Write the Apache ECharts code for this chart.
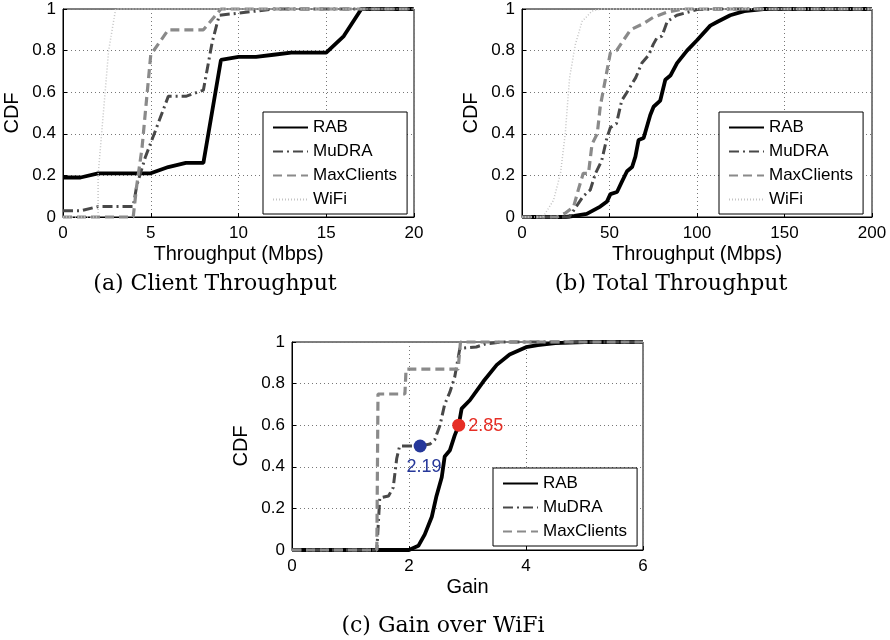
<!DOCTYPE html>
<html>
<head>
<meta charset="utf-8">
<script src="https://cdn.jsdelivr.net/npm/echarts@6/dist/echarts.min.js"></script>
<style>
  html, body { margin: 0; padding: 0; background: #fff; }
  #main { width: 890px; height: 640px; }
</style>
</head>
<body>
<div id="main"></div>
<script>
// series names shown in the legends
var names = ['RAB', 'MuDRA', 'MaxClients', 'WiFi'];

// (a) client throughput, [Mbps, CDF]
var aRAB = [[0,0.19],[1,0.19],[2,0.21],[3,0.21],[4,0.21],[5,0.21],[6,0.24],[7,0.26],[8,0.26],[9,0.755],[10,0.77],[11,0.77],[12,0.78],[13,0.79],[14,0.79],[15,0.79],[16,0.87],[17,1],[18,1],[19,1],[20,1]];
var aMuDRA = [[0,0.03],[1,0.03],[2,0.05],[3,0.05],[4,0.05],[4.2,0.15],[4.7,0.29],[5.2,0.4],[6,0.58],[7,0.58],[8,0.61],[8.5,0.84],[8.9,0.97],[10,0.98],[11,0.99],[12,1],[20,1]];
var aMaxClients = [[0,0],[1,0],[2,0],[3,0],[4,0],[4.2,0.15],[4.5,0.33],[4.8,0.6],[5,0.78],[6,0.9],[7,0.9],[8,0.9],[9,1],[20,1]];
var aWiFi = [[0,0],[1,0],[2,0],[2,0.2],[2.2,0.4],[2.4,0.6],[2.6,0.8],[3,1],[20,1]];

// (b) total throughput, [Mbps, CDF]
var bRAB = [[0,0],[25,0],[30,0.005],[37,0.015],[44.7,0.05],[48.6,0.075],[50.5,0.11],[54.3,0.12],[57.1,0.17],[60,0.22],[62.9,0.24],[64.8,0.29],[66.6,0.37],[69.5,0.38],[73.3,0.49],[75.2,0.53],[79,0.56],[81.9,0.66],[84.8,0.68],[88.6,0.74],[94.3,0.8],[100,0.85],[107.6,0.92],[112,0.94],[119,0.97],[127,0.99],[138,1],[200,1]];
var bMuDRA = [[0,0],[27,0],[31,0.05],[35,0.1],[39,0.13],[42,0.21],[45.5,0.27],[48.5,0.38],[50.5,0.43],[54,0.45],[57,0.56],[60,0.6],[65,0.67],[68.5,0.74],[72.5,0.78],[75,0.83],[77,0.86],[80,0.87],[83,0.94],[88.5,0.97],[100,0.997],[110,1],[200,1]];
var bMaxClients = [[0,0],[20,0],[25,0.02],[29.5,0.05],[32.5,0.14],[35,0.21],[38,0.21],[40,0.35],[43,0.4],[44.7,0.53],[47.6,0.66],[50.5,0.79],[54,0.8],[58,0.85],[62,0.9],[69.5,0.93],[75,0.96],[83,0.985],[92,1],[200,1]];
var bWiFi = [[0,0],[12,0],[18,0.08],[22,0.21],[24.7,0.4],[27.2,0.67],[30.5,0.83],[34.3,0.94],[40,0.99],[45,1],[200,1]];

// (c) gain over WiFi, [gain, CDF]
var cRAB = [[0,0],[2,0],[2.16,0.02],[2.27,0.075],[2.39,0.16],[2.47,0.26],[2.56,0.35],[2.61,0.45],[2.7,0.48],[2.78,0.55],[2.85,0.6],[2.9,0.68],[3.04,0.72],[3.27,0.81],[3.5,0.89],[3.72,0.94],[4,0.975],[4.2,0.985],[4.5,0.995],[5,1],[6,1]];
var cMuDRA = [[0,0],[1.45,0],[1.5,0.25],[1.65,0.26],[1.73,0.3],[1.79,0.44],[1.84,0.5],[2.19,0.5],[2.36,0.51],[2.44,0.53],[2.53,0.6],[2.61,0.7],[2.7,0.76],[2.78,0.83],[2.87,0.97],[3.15,0.976],[3.3,0.99],[3.6,1],[6,1]];
var cMaxClients = [[0,0],[1.45,0],[1.47,0.75],[1.93,0.75],[1.95,0.87],[2.84,0.87],[2.88,1],[6,1]];
var cMuDRAMedian = [[2.19, 0.5]];
var cRABMedian = [[2.85, 0.6]];

// axis ranges
var xMax = [20, 200, 6];
var xStep = [5, 50, 2];
var xNames = ['Throughput (Mbps)', 'Throughput (Mbps)', 'Gain'];
var captions = ['(a) Client Throughput', '(b) Total Throughput', '(c) Gain over WiFi'];

var font = 'Liberation Sans, Arial, sans-serif';
var styles = {
  RAB: { color: '#000000', width: 3.8, type: 'solid' },
  MuDRA: { color: '#484848', width: 3, type: [10, 4, 2, 4] },
  MaxClients: { color: '#8a8a8a', width: 3.2, type: [9, 5] },
  WiFi: { color: '#c4c4c4', width: 1.5, type: [1, 2] }
};

var grids = [
  { left: 63, top: 9, width: 351, height: 208 },
  { left: 522, top: 9, width: 350, height: 208 },
  { left: 292, top: 342, width: 351, height: 208 }
];
grids.forEach(function (g) {
  g.show = true;
  g.borderColor = '#000';
  g.borderWidth = 1;
});

var xAxes = [], yAxes = [];
for (var i = 0; i < 3; i++) {
  xAxes.push({
    type: 'value', gridIndex: i, min: 0, max: xMax[i], interval: xStep[i],
    name: xNames[i], nameLocation: 'middle', nameGap: 27,
    nameTextStyle: { fontFamily: font, fontSize: 20, color: '#000' },
    axisLine: { show: true, lineStyle: { color: '#000', width: 1 } },
    axisTick: { show: true, inside: true, length: 4, lineStyle: { color: '#000' } },
    axisLabel: { fontFamily: font, fontSize: 17, color: '#000', margin: 8 },
    splitLine: { show: true, lineStyle: { color: '#777', type: [1, 3], width: 1 } }
  });
  yAxes.push({
    type: 'value', gridIndex: i, min: 0, max: 1, interval: 0.2,
    name: 'CDF', nameLocation: 'middle', nameGap: 41,
    nameTextStyle: { fontFamily: font, fontSize: 20, color: '#000' },
    axisLine: { show: true, lineStyle: { color: '#000', width: 1 } },
    axisTick: { show: true, inside: true, length: 4, lineStyle: { color: '#000' } },
    axisLabel: { fontFamily: font, fontSize: 17, color: '#000', margin: 7 },
    splitLine: { show: true, lineStyle: { color: '#777', type: [1, 3], width: 1 } }
  });
}

function line(name, idx, data) {
  return {
    name: name, type: 'line', xAxisIndex: idx, yAxisIndex: idx,
    data: data, symbol: 'none', clip: false, animation: false,
    lineStyle: styles[name], itemStyle: { color: styles[name].color }
  };
}

function marker(idx, data, color, pos, offset) {
  return {
    name: 'median', type: 'scatter', xAxisIndex: idx, yAxisIndex: idx,
    data: data, symbolSize: 13, z: 5, animation: false,
    itemStyle: { color: color, opacity: 1 },
    label: {
      show: true, position: pos, offset: offset, color: color,
      fontFamily: font, fontSize: 18,
      formatter: function (p) { return p.value[0].toFixed(2); }
    }
  };
}

var series = [
  line('RAB', 0, aRAB), line('MuDRA', 0, aMuDRA), line('MaxClients', 0, aMaxClients), line('WiFi', 0, aWiFi),
  line('RAB', 1, bRAB), line('MuDRA', 1, bMuDRA), line('MaxClients', 1, bMaxClients), line('WiFi', 1, bWiFi),
  line('RAB', 2, cRAB), line('MuDRA', 2, cMuDRA), line('MaxClients', 2, cMaxClients),
  marker(2, cMuDRAMedian, '#26389a', 'bottom', [4, 1]),
  marker(2, cRABMedian, '#e62e25', 'right', [-2, 1])
];

function legend(left, top, data) {
  return {
    left: left, top: top, orient: 'vertical', data: data,
    selectedMode: false,
    backgroundColor: '#fff', borderColor: '#000', borderWidth: 1, borderRadius: 0,
    padding: [7, 10, 6, 9], itemWidth: 35, itemHeight: 14, itemGap: 7,
    itemStyle: { opacity: 0 },
    textStyle: { fontFamily: font, fontSize: 17, color: '#000' }
  };
}

var graphics = [
  { x: 215, y: 284 }, { x: 671, y: 284 }, { x: 443, y: 626 }
].map(function (p, i) {
  return {
    type: 'text', x: p.x, y: p.y,
    style: {
      text: captions[i], fill: '#000',
      font: '22px "DejaVu Serif", "Liberation Serif", serif',
      textAlign: 'center', textVerticalAlign: 'middle'
    }
  };
});

var chart = echarts.init(document.getElementById('main'), null, { renderer: 'canvas' });
chart.setOption({
  backgroundColor: '#fff',
  animation: false,
  grid: grids,
  xAxis: xAxes,
  yAxis: yAxes,
  legend: [
    legend(263, 112, names),
    legend(719, 112, names),
    legend(493, 468, names.slice(0, 3))
  ],
  series: series,
  graphic: graphics
});
</script>
</body>
</html>
